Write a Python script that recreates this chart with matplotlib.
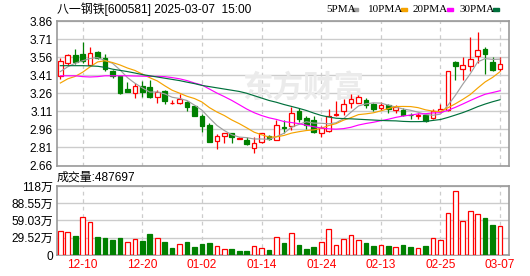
import numpy as np
import pandas as pd
import matplotlib
matplotlib.use("Agg")
from matplotlib import pyplot as plt
from matplotlib.patches import Rectangle

plt.rcParams['font.family'] = ['Liberation Sans', 'Noto Sans CJK SC']

dates = ["12-05", "12-06", "12-09", "12-10", "12-11", "12-12", "12-13", "12-16", "12-17", "12-18",
         "12-19", "12-20", "12-23", "12-24", "12-25", "12-26", "12-27", "12-30", "12-31", "01-02",
         "01-03", "01-06", "01-07", "01-08", "01-09", "01-10", "01-13", "01-14", "01-15", "01-16",
         "01-17", "01-20", "01-21", "01-22", "01-23", "01-24", "01-27", "02-05", "02-06", "02-07",
         "02-10", "02-11", "02-12", "02-13", "02-14", "02-17", "02-18", "02-19", "02-20", "02-21",
         "02-24", "02-25", "02-26", "02-27", "02-28", "03-03", "03-04", "03-05", "03-06", "03-07"]
opens = [3.406, 3.511, 3.581, 3.589, 3.492, 3.603, 3.553, 3.442, 3.400, 3.297,
         3.261, 3.323, 3.311, 3.225, 3.281, 3.180, 3.175, 3.186, 3.150, 3.072,
         2.998, 2.864, 2.906, 2.928, 2.884, 2.872, 2.808, 2.853, 2.906, 2.875,
         2.978, 2.992, 3.114, 3.053, 3.039, 2.928, 2.948, 3.081, 3.114, 3.178,
         3.183, 3.200, 3.172, 3.134, 3.161, 3.123, 3.123, 3.081, 3.072, 3.081,
         3.053, 3.111, 3.123, 3.520, 3.464, 3.486, 3.567, 3.628, 3.517, 3.461]
highs = [3.553, 3.589, 3.628, 3.684, 3.645, 3.609, 3.589, 3.456, 3.403, 3.350,
         3.345, 3.359, 3.373, 3.289, 3.289, 3.205, 3.256, 3.192, 3.156, 3.089,
         3.012, 2.922, 2.934, 2.934, 2.900, 2.900, 2.900, 2.934, 2.911, 3.042,
         3.042, 3.145, 3.136, 3.067, 3.067, 2.984, 3.131, 3.192, 3.214, 3.253,
         3.247, 3.220, 3.178, 3.184, 3.172, 3.164, 3.136, 3.100, 3.095, 3.081,
         3.128, 3.170, 3.448, 3.531, 3.561, 3.725, 3.767, 3.642, 3.561, 3.561]
lows = [3.378, 3.497, 3.506, 3.511, 3.484, 3.542, 3.442, 3.386, 3.255, 3.267,
        3.217, 3.233, 3.217, 3.178, 3.169, 3.172, 3.169, 3.109, 3.067, 2.942,
        2.859, 2.800, 2.845, 2.845, 2.878, 2.830, 2.767, 2.845, 2.875, 2.875,
        2.933, 2.956, 3.025, 2.962, 2.934, 2.900, 2.942, 3.067, 3.081, 3.136,
        3.178, 3.136, 3.109, 3.123, 3.095, 3.095, 3.073, 3.045, 3.047, 3.025,
        3.047, 3.103, 3.109, 3.373, 3.373, 3.442, 3.511, 3.420, 3.442, 3.442]
closes = [3.525, 3.575, 3.520, 3.531, 3.595, 3.556, 3.461, 3.400, 3.261, 3.272,
          3.323, 3.267, 3.225, 3.267, 3.192, 3.183, 3.214, 3.142, 3.075, 2.984,
          2.859, 2.906, 2.928, 2.900, 2.887, 2.836, 2.850, 2.928, 2.884, 3.000,
          2.975, 3.100, 3.045, 2.998, 2.942, 2.970, 3.075, 3.089, 3.170, 3.211,
          3.225, 3.164, 3.131, 3.159, 3.128, 3.145, 3.083, 3.078, 3.080, 3.031,
          3.114, 3.128, 3.448, 3.490, 3.495, 3.545, 3.623, 3.586, 3.456, 3.506]
# volume in 万
volumes = [41.0, 39.3, 32.5, 64.4, 56.4, 30.8, 29.1, 26.2, 29.1, 22.2,
           26.8, 23.9, 35.9, 28.5, 22.2, 12.0, 18.2, 22.2, 13.7, 18.8,
           20.5, 14.8, 9.7, 10.3, 6.8, 6.8, 14.8, 11.4, 8.6, 30.2,
           20.5, 37.1, 17.1, 10.3, 13.7, 22.2, 43.9, 16.5, 26.8, 33.6,
           25.7, 20.5, 15.4, 16.5, 15.4, 13.1, 17.1, 13.7, 11.4, 15.4,
           28.5, 25.7, 71.3, 108.9, 58.1, 74.7, 70.1, 63.3, 51.3, 48.7697]

# moving average values before the window is full
ma5_lead = [3.44, 3.48, 3.51, 3.53]
ma10_lead = [3.345, 3.38, 3.40, 3.435, 3.48, 3.52, 3.53, 3.515, 3.495]
ma20_lead = [3.405, 3.405, 3.405, 3.398, 3.395, 3.398, 3.405, 3.405, 3.405, 3.405,
             3.403, 3.402, 3.400, 3.400, 3.398, 3.390, 3.380, 3.365, 3.345]
ma30_lead = [3.489, 3.489, 3.489, 3.489, 3.487, 3.484, 3.475, 3.460, 3.450, 3.440,
             3.428, 3.415, 3.405, 3.395, 3.385, 3.375, 3.365, 3.352, 3.340, 3.325,
             3.315, 3.305, 3.295, 3.285, 3.275, 3.260, 3.240, 3.220, 3.200]

price_ticks = [2.66, 2.81, 2.96, 3.11, 3.26, 3.41, 3.56, 3.71, 3.86]
vol_ticks = [0, 29.52, 59.03, 88.55, 118]
vol_tick_labels = ["0", "29.52万", "59.03万", "88.55万", "118万"]
date_ticks = ["12-10", "12-20", "01-02", "01-14", "01-24", "02-13", "02-25", "03-07"]

RED = "#ff0000"
GREEN = "#008000"
GRID = "#cccccc"
FRAME = "#999999"

o = np.array(opens)
h = np.array(highs)
l = np.array(lows)
c = np.array(closes)
x = np.arange(len(dates))
up = c >= o
prev = np.concatenate([[o[0]], c[:-1]])
vol_up = c > prev

cs = pd.Series(c)
mas = {}
for n, lead, col in [(5, ma5_lead, "#a0a0a0"), (10, ma10_lead, "#f5a300"),
                     (20, ma20_lead, "#ff00ff"), (30, ma30_lead, "#00703c")]:
    m = cs.rolling(n).mean().values
    m[:len(lead)] = lead
    mas[n] = (m, col)

fig = plt.figure(figsize=(5.3, 2.76), dpi=100)
W, H = 530, 276
ax = fig.add_axes([57 / W, 1 - 165.5 / H, 452 / W, 144.5 / H])
axv = fig.add_axes([57 / W, 1 - 255 / H, 452 / W, 69 / H])

tick_idx = [dates.index(d) for d in date_ticks]

for a in (ax, axv):
    a.set_xlim(-0.45, 60.2)
    a.set_xticks(tick_idx)
    a.set_axisbelow(True)
    a.grid(axis="y", color=GRID, lw=1)
    a.grid(axis="x", color=GRID, lw=0.9, ls=(0, (3, 3)))
    for s in a.spines.values():
        s.set_color(FRAME)
        s.set_linewidth(1.2)
    a.tick_params(length=0, labelsize=8.6, pad=3)

# price panel
ax.set_ylim(2.66, 3.86)
ax.set_yticks(price_ticks)
ax.set_yticklabels([f"{t:.2f}" for t in price_ticks])
ax.set_xticklabels([])

ax.text(303 / W, 1 - 88 / H, "东方财富", transform=fig.transFigure, fontsize=22,
        color="#ebebeb", ha="center", va="center", fontweight="bold", zorder=1,
        family=["Noto Sans CJK SC"])

colors = np.where(up, RED, GREEN)
ax.vlines(x, l, h, colors=colors, lw=0.9, zorder=2)
body_h = np.maximum(np.abs(c - o), 0.003)
body_b = np.minimum(o, c)
ax.bar(x, body_h, 0.62, bottom=body_b, color=np.where(up, "white", GREEN),
       edgecolor=colors, lw=0.9, zorder=3)

for n, (m, col) in mas.items():
    ax.plot(x, m, color=col, lw=0.85, zorder=4)

# volume panel
axv.set_ylim(0, 118)
axv.set_yticks(vol_ticks)
axv.set_yticklabels(vol_tick_labels)
axv.set_xticklabels(date_ticks, color=RED)
vcol = np.where(vol_up, RED, GREEN)
axv.bar(x, volumes, 0.62, color=np.where(vol_up, "white", GREEN), edgecolor=vcol,
        lw=0.9, zorder=3)

# header texts
fig.text(57 / W, 1 - 9.5 / H, "八一钢铁[600581] 2025-03-07  15:00", fontsize=8.6,
         va="center", ha="left")
fig.text(57 / W, 1 - 177.5 / H, "成交量:%d" % round(volumes[-1] * 10000), fontsize=8.6,
         va="center", ha="left")

legend = [("5PMA", 326, 352, "#a0a0a0"), ("10PMA", 368, 401, "#f5a300"),
          ("20PMA", 413, 447, "#ff00ff"), ("30PMA", 459, 493, "#00703c")]
for name, tx, sx, col in legend:
    fig.text(tx / W, 1 - 9.5 / H, name, fontsize=8, va="center", ha="left",
             family=["Liberation Serif"])
    fig.patches.append(Rectangle((sx / W, 1 - 11 / H), 6 / W, 3 / H, color=col,
                                 transform=fig.transFigure, figure=fig))

fig.savefig("out.png", dpi=100)
